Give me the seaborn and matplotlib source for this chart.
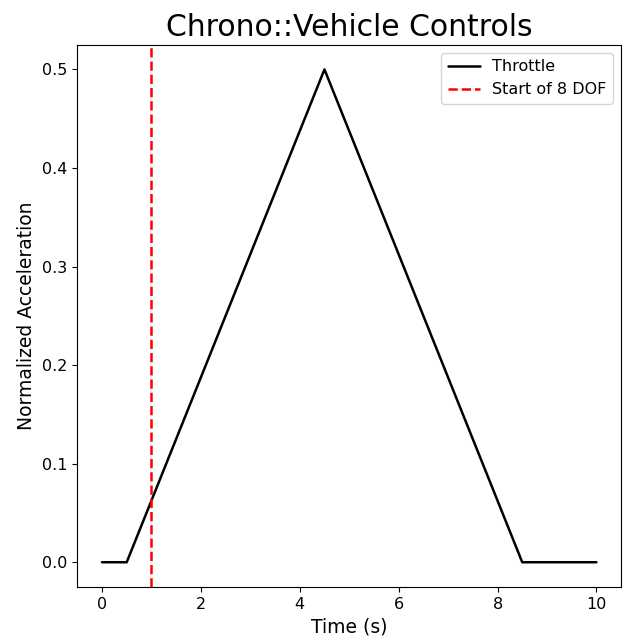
import seaborn as sns
import matplotlib.pyplot as plt
import pandas as pd

# Throttle profile (time in s, normalized acceleration)
time_s = [0.0, 0.5, 4.5, 8.5, 10.0]
throttle = [0.0, 0.0, 0.5, 0.0, 0.0]
start_8dof = 1.0

df = pd.DataFrame({"Time": time_s, "Throttle": throttle})

# plain matplotlib look: black text and spines
sns.set_style("ticks", {"axes.edgecolor": "black", "text.color": "black",
                        "axes.labelcolor": "black", "xtick.color": "black",
                        "ytick.color": "black"})
plt.rcParams['font.family'] = ['DejaVu Sans']

fig = plt.figure(figsize=(6.23, 6.4), dpi=100)
ax = fig.add_axes([0.124, 0.083, 0.873, 0.847])

sns.lineplot(data=df, x="Time", y="Throttle", color="black", linewidth=1.8,
             label="Throttle", ax=ax)
ax.axvline(start_8dof, color="red", linestyle="--", linewidth=1.8, label="Start of 8 DOF")

ax.set_xlim(-0.5, 10.5)
ax.set_ylim(-0.025, 0.525)
ax.set_xticks([0, 2, 4, 6, 8, 10])
ax.set_yticks([0.0, 0.1, 0.2, 0.3, 0.4, 0.5])
ax.tick_params(labelsize=11.5)
ax.set_xlabel("Time (s)", fontsize=13.5)
ax.set_ylabel("Normalized Acceleration", fontsize=13.5)
ax.set_title("Chrono::Vehicle Controls", fontsize=21.5)
ax.legend(loc="upper right", fontsize=11.5)

fig.savefig("out.png", dpi=100)
